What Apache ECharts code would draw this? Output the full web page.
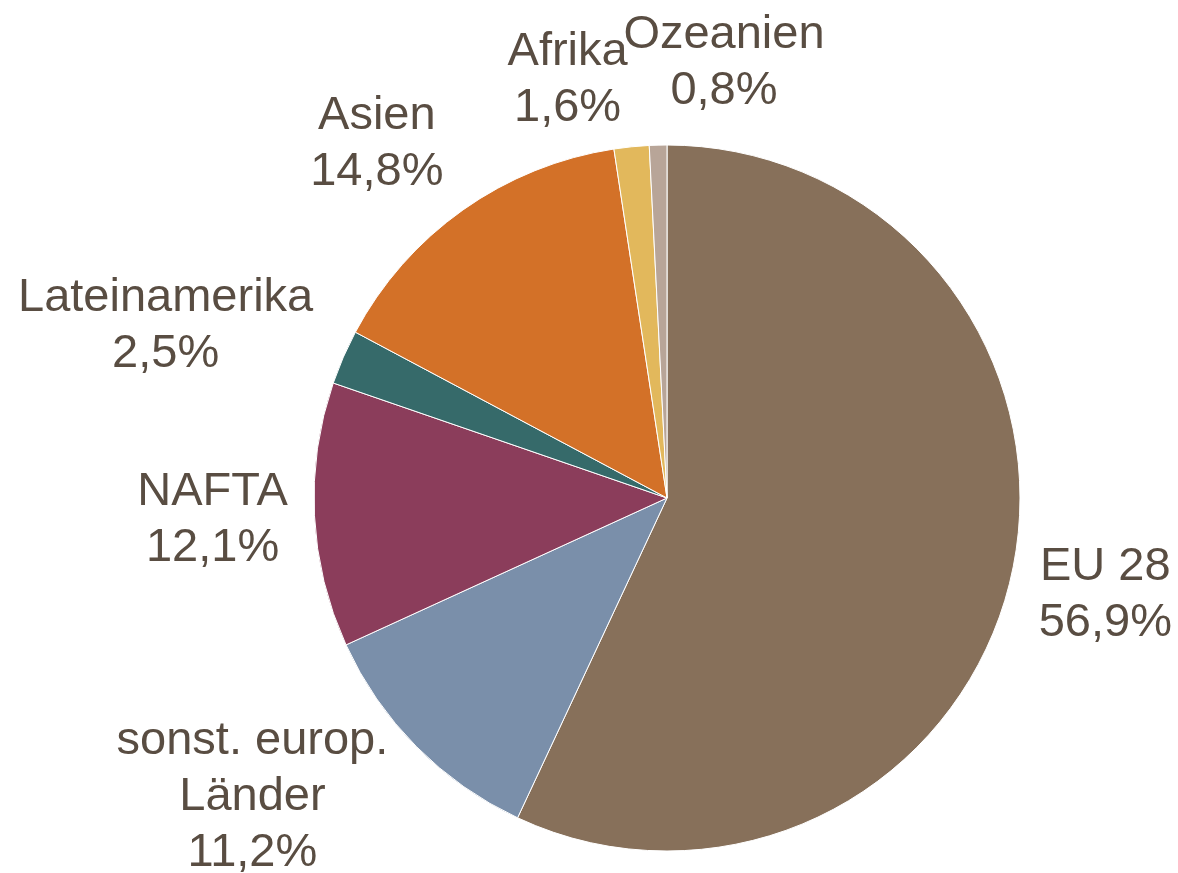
<!DOCTYPE html>
<html>
<head>
<meta charset="utf-8">
<script src="https://cdn.jsdelivr.net/npm/echarts@6/dist/echarts.min.js"></script>
<style>
  html, body { margin: 0; padding: 0; background: #fff; }
  #main { width: 1178px; height: 873px; }
</style>
</head>
<body>
<div id="main"></div>
<script>
// Anteile in Prozent, im Uhrzeigersinn ab 12 Uhr
var regions = ['EU 28', 'sonst. europ.\nLänder', 'NAFTA', 'Lateinamerika', 'Asien', 'Afrika', 'Ozeanien'];
var shares = [56.9, 11.2, 12.1, 2.5, 14.8, 1.6, 0.8];
var colors = ['#87705A', '#7A8FAA', '#8B3D5B', '#366A6A', '#D37128', '#E2B85C', '#B8A598'];

// Feinjustierung der Beschriftung: Winkelversatz (Grad) und Abstand vom Mittelpunkt (px)
var labelShift = [0, 9, 0, -4.6, -4, -7.6, 8.9];
var labelDist = [449, 511, 455, 530, 458, 430, 439];

var cx = 667, cy = 498, r = 353;

var total = shares.reduce(function (a, b) { return a + b; }, 0);
var midAngles = [];
var acc = 0;
shares.forEach(function (v) {
  midAngles.push((acc + v / 2) / total * 360);
  acc += v;
});

var chartDom = document.getElementById('main');
var myChart = echarts.init(chartDom);
var option = {
  animation: false,
  color: colors,
  series: [
    {
      type: 'pie',
      center: [cx, cy],
      radius: r,
      startAngle: 90,
      clockwise: true,
      data: regions.map(function (name, i) {
        return { name: name, value: shares[i] };
      }),
      itemStyle: {
        borderColor: '#ffffff',
        borderWidth: 1
      },
      label: {
        show: true,
        position: 'outside',
        overflow: 'none',
        fontFamily: 'Arial, "Liberation Sans", sans-serif',
        fontSize: 47,
        lineHeight: 56,
        color: '#594D42',
        formatter: function (p) {
          return p.name + '\n' + p.value.toFixed(1).replace('.', ',') + '%';
        }
      },
      labelLine: { show: false },
      labelLayout: function (params) {
        var i = params.dataIndex;
        var a = (midAngles[i] + labelShift[i]) * Math.PI / 180;
        return {
          x: cx + labelDist[i] * Math.sin(a),
          y: cy - labelDist[i] * Math.cos(a),
          align: 'center',
          verticalAlign: 'middle'
        };
      }
    }
  ]
};
option && myChart.setOption(option);
</script>
</body>
</html>
